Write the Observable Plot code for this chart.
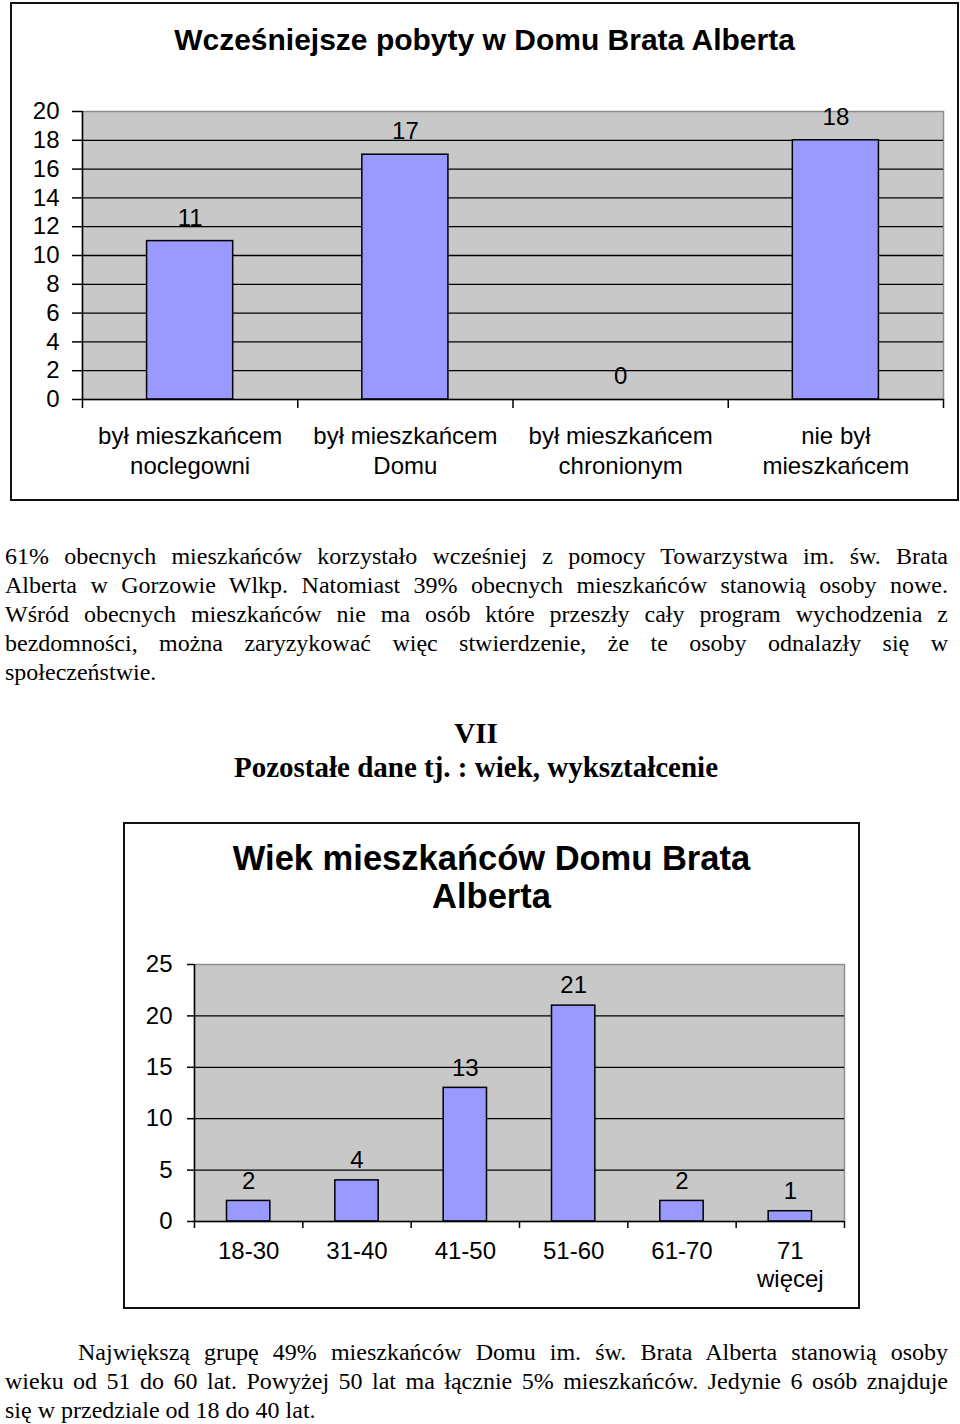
<!DOCTYPE html>
<html>
<head>
<meta charset="utf-8">
<script src="https://cdn.jsdelivr.net/npm/d3@7"></script>
<script src="https://cdn.jsdelivr.net/npm/@observablehq/plot@0.6"></script>
<style>
html, body { margin: 0; padding: 0; background: #fff; overflow: hidden; }
body { width: 960px; height: 1424px; position: relative; }
.box { position: absolute; border: 2px solid #111; box-sizing: border-box; z-index: 3; pointer-events: none; }
.ctitle { position: absolute; font-family: "Liberation Sans", Arial, sans-serif; font-weight: bold; text-align: center; color: #000; }
.para { position: absolute; font-family: "Liberation Serif", "Times New Roman", serif; font-size: 24px; line-height: 29px; color: #000; }
.j { text-align: justify; text-align-last: justify; }
.head { position: absolute; left: 0; width: 952px; text-align: center; font-family: "Liberation Serif", "Times New Roman", serif; font-weight: bold; font-size: 29px; line-height: 34px; color: #000; }
.chart { position: absolute; left: 0; }
</style>
</head>
<body>
<div class="box" style="left:10px; top:2px; width:949px; height:499px;"></div>
<div class="ctitle" style="left:10px; width:949px; top:20px; font-size:30px; line-height:40px;">Wcześniejsze pobyty w Domu Brata Alberta</div>
<div id="chart1" class="chart" style="top:90px;"></div>

<div class="para" style="left:5px; width:943px; top:542px;">
  <div class="j">61% obecnych mieszkańców korzystało wcześniej z pomocy Towarzystwa im. św. Brata</div>
  <div class="j">Alberta w Gorzowie Wlkp. Natomiast 39% obecnych mieszkańców stanowią osoby nowe.</div>
  <div class="j">Wśród obecnych mieszkańców nie ma osób które przeszły cały program wychodzenia z</div>
  <div class="j">bezdomności, można zaryzykować więc stwierdzenie, że te osoby odnalazły się w</div>
  <div>społeczeństwie.</div>
</div>

<div class="head" style="top:716px;">VII<br>Pozostałe dane tj. : wiek, wykształcenie</div>

<div class="box" style="left:123px; top:822px; width:737px; height:487px;"></div>
<div class="ctitle" style="left:123px; width:737px; top:839px; font-size:34.5px; line-height:38px;">Wiek mieszkańców Domu Brata<br>Alberta</div>
<div id="chart2" class="chart" style="top:940px;"></div>

<div class="para" style="left:5px; width:943px; top:1338px;">
  <div class="j" style="padding-left:73px;">Największą grupę 49% mieszkańców Domu im. św. Brata Alberta stanowią osoby</div>
  <div class="j">wieku od 51 do 60 lat. Powyżej 50 lat ma łącznie 5% mieszkańców. Jedynie 6 osób znajduje</div>
  <div>się w przedziale od 18 do 40 lat.</div>
</div>

<script>
// ---- Data ----
const stayCategories = ["był mieszkańcem\nnoclegowni", "był mieszkańcem\nDomu", "był mieszkańcem\nchronionym", "nie był\nmieszkańcem"];
const stayValues = [11, 17, 0, 18];
const stayTicks = [0, 2, 4, 6, 8, 10, 12, 14, 16, 18, 20];

const ageCategories = ["18-30", "31-40", "41-50", "51-60", "61-70", "71\nwięcej"];
const ageValues = [2, 4, 13, 21, 2, 1];
const ageTicks = [0, 5, 10, 15, 20, 25];

function barChart(cfg) {
  const n = cfg.categories.length;
  const data = cfg.categories.map((c, i) => ({c, v: cfg.values[i], i}));
  const yMax = cfg.ticks[cfg.ticks.length - 1];
  return Plot.plot({
    width: 960,
    height: cfg.height,
    marginLeft: cfg.marginLeft,
    marginRight: cfg.marginRight,
    marginTop: cfg.marginTop,
    marginBottom: cfg.marginBottom,
    style: {fontFamily: "Liberation Sans, Arial, sans-serif", fontSize: "24px", color: "#000", background: "transparent", overflow: "visible"},
    x: {domain: [0, n], axis: null},
    y: {domain: [0, yMax], axis: null},
    marks: [
      Plot.frame({fill: "#c8c8c8", stroke: "#8f8f8f", strokeWidth: 1.5}),
      Plot.ruleY(cfg.ticks.filter(t => t > 0 && t < yMax), {stroke: "#000", strokeWidth: 1.3}),
      Plot.rect(data, {x1: d => d.i + 0.3, x2: d => d.i + 0.7, y1: 0, y2: "v", fill: "#9999ff", stroke: "#000", strokeWidth: 1.5}),
      Plot.ruleY([0], {stroke: "#000", strokeWidth: 1.5}),
      Plot.ruleX([0], {stroke: "#000", strokeWidth: 1.5}),
      Plot.axisY({ticks: cfg.ticks, label: null, tickSize: cfg.yTickSize, tickPadding: cfg.yTickPadding, fontSize: 24, strokeWidth: 1.5, tickFormat: d => String(d)}),
      Plot.axisX({ticks: d3.range(n + 1), label: null, tickSize: cfg.xTickSize, strokeWidth: 1.5, tickFormat: () => ""}),
      Plot.text(data, {x: d => d.i + 0.5, y: "v", text: d => String(d.v), dy: cfg.valueDy, fontSize: 24}),
      Plot.text(data, {x: d => d.i + 0.5, frameAnchor: "bottom", text: "c", lineAnchor: "top", dy: cfg.labelDy, lineHeight: cfg.lineHeight, fontSize: 24})
    ]
  });
}

document.getElementById("chart1").append(barChart({
  categories: stayCategories, values: stayValues, ticks: stayTicks,
  height: 420, marginLeft: 82, marginRight: 17, marginTop: 21, marginBottom: 111,
  yTickSize: 10, yTickPadding: 13, xTickSize: 9,
  valueDy: -23, labelDy: 23, lineHeight: 1.25
}));

document.getElementById("chart2").append(barChart({
  categories: ageCategories, values: ageValues, ticks: ageTicks,
  height: 360, marginLeft: 194, marginRight: 116, marginTop: 24, marginBottom: 79,
  yTickSize: 7, yTickPadding: 15, xTickSize: 7,
  valueDy: -20, labelDy: 18, lineHeight: 1.15
}));
</script>
</body>
</html>
